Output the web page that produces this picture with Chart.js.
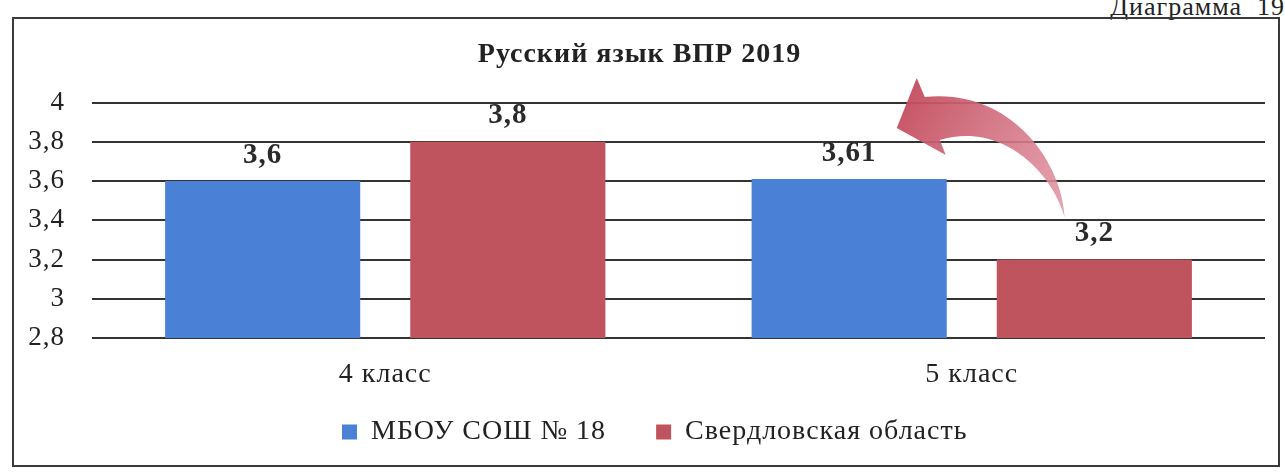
<!DOCTYPE html>
<html>
<head>
<meta charset="utf-8">
<script src="https://cdn.jsdelivr.net/npm/chart.js@4"></script>
<style>
    body { margin: 0; background: #fff; width: 1285px; height: 475px; position: relative; overflow: hidden; }
    #caption { position: absolute; right: 0; top: -8px; font: 26px 'Liberation Serif', serif; color: #222; letter-spacing: 1px; }
    #frame { position: absolute; left: 12px; top: 17px; width: 1264px; height: 446px; border: 2px solid #3a3a3a; }
</style>
</head>
<body>
<div id="caption">Диаграмма&nbsp; 19</div>
<div id="frame"><canvas id="barChart"></canvas></div>
<script>
const classes = ['4 класс', '5 класс'];
const school = [3.6, 3.61];
const region = [3.8, 3.2];
const seriesNames = ['МБОУ СОШ № 18', 'Свердловская область'];
const yTicks = [2.8, 3, 3.2, 3.4, 3.6, 3.8, 4];

let cor_s = '#4a80d6';
let cor_r = '#c0545e';
const serif = 'Liberation Serif';

function fmt(v) {
    return String(Math.round(v * 100) / 100).replace('.', ',');
}

// шрифт в скане чуть растянут по горизонтали
const spacing = {
    id: 'spacing',
    beforeUpdate(chart) { chart.ctx.letterSpacing = '1px'; },
    beforeDraw(chart) { chart.ctx.letterSpacing = '1px'; }
};

// легенда: положение как в оригинале
const legendPlace = {
    id: 'legendPlace',
    afterLayout(chart) {
        const lg = chart.legend;
        const p = lg.options.labels.padding;
        const startX = 328;
        lg.right = 2 * startX - lg.left - p + lg.lineWidths[0];
        lg.top = 399 - p;
    }
};

// подписи значений над столбцами
const valueLabels = {
    id: 'valueLabels',
    afterDatasetsDraw(chart) {
        const ctx = chart.ctx;
        ctx.save();
        ctx.font = 'bold 29px "Liberation Serif", serif';
        ctx.fillStyle = '#2a2a2a';
        ctx.textAlign = 'center';
        ctx.textBaseline = 'middle';
        chart.data.datasets.forEach((ds, i) => {
            chart.getDatasetMeta(i).data.forEach((el, j) => {
                ctx.fillText(fmt(ds.data[j]), el.x, el.y - 26);
            });
        });
        ctx.restore();
    }
};

// изогнутая стрелка от 3,2 к 3,61
const curvedArrow = {
    id: 'curvedArrow',
    afterDatasetsDraw(chart) {
        const b = chart.getDatasetMeta(0).data[1];
        const r = chart.getDatasetMeta(1).data[1];
        const bx = b.x + b.width / 2, by = b.y;
        const rx = r.x - r.width / 2, ry = r.y;
        const ctx = chart.ctx;
        ctx.save();
        const g = ctx.createLinearGradient(bx - 50, by - 60, rx + 68, ry - 42);
        g.addColorStop(0, 'rgba(196,78,96,0.95)');
        g.addColorStop(1, 'rgba(226,150,165,0.85)');
        ctx.fillStyle = g;
        ctx.beginPath();
        ctx.moveTo(bx - 22, by - 82);
        ctx.bezierCurveTo(bx + 62, by - 91, rx + 65, ry - 100, rx + 68, ry - 42);
        ctx.bezierCurveTo(rx + 55, ry - 90, bx + 52, by - 58, bx - 7, by - 39);
        ctx.lineTo(bx - 1, by - 24);
        ctx.lineTo(bx - 50, by - 51);
        ctx.lineTo(bx - 30, by - 101);
        ctx.closePath();
        ctx.fill();
        ctx.restore();
    }
};

const ctx = document.getElementById('barChart');
new Chart(ctx, {
    type: 'bar',
    data: {
        labels: classes,
        datasets: [{
                label: seriesNames[0],
                data: school,
                backgroundColor: cor_s,
                categoryPercentage: 0.836,
                barPercentage: 0.796
            },
            {
                label: seriesNames[1],
                data: region,
                backgroundColor: cor_r,
                categoryPercentage: 0.836,
                barPercentage: 0.796
            }
        ]
    },
    plugins: [spacing, legendPlace, valueLabels, curvedArrow],
    options: {
        responsive: true,
        maintainAspectRatio: false,
        animation: false,
        layout: { padding: { left: 0, right: 13, top: 0, bottom: 0 } },
        plugins: {
            title: {
                display: true,
                text: 'Русский язык ВПР 2019',
                color: '#222',
                font: { family: serif, size: 28, weight: 'bold' },
                padding: { top: 19, bottom: 31 }
            },
            legend: {
                position: 'bottom',
                maxHeight: 71,
                labels: {
                    color: '#222',
                    font: { family: serif, size: 28 },
                    boxWidth: 15,
                    boxHeight: 15,
                    padding: 50
                }
            },
            tooltip: { enabled: false }
        },
        scales: {
            x: {
                afterFit: (scale) => { scale.height = 56; },
                grid: { display: false, drawTicks: false },
                border: { display: false },
                ticks: {
                    color: '#222',
                    font: { family: serif, size: 28 },
                    padding: 20
                }
            },
            y: {
                min: 2.8,
                max: 4,
                afterFit: (scale) => { scale.width = 78; },
                afterBuildTicks: (scale) => { scale.ticks = yTicks.map(v => ({ value: v })); },
                grid: { color: '#333', lineWidth: 2, drawTicks: false },
                border: { display: false },
                ticks: {
                    color: '#222',
                    font: { family: serif, size: 27 },
                    padding: 27,
                    callback: (v) => fmt(v)
                }
            }
        }
    }
});
</script>
</body>
</html>
